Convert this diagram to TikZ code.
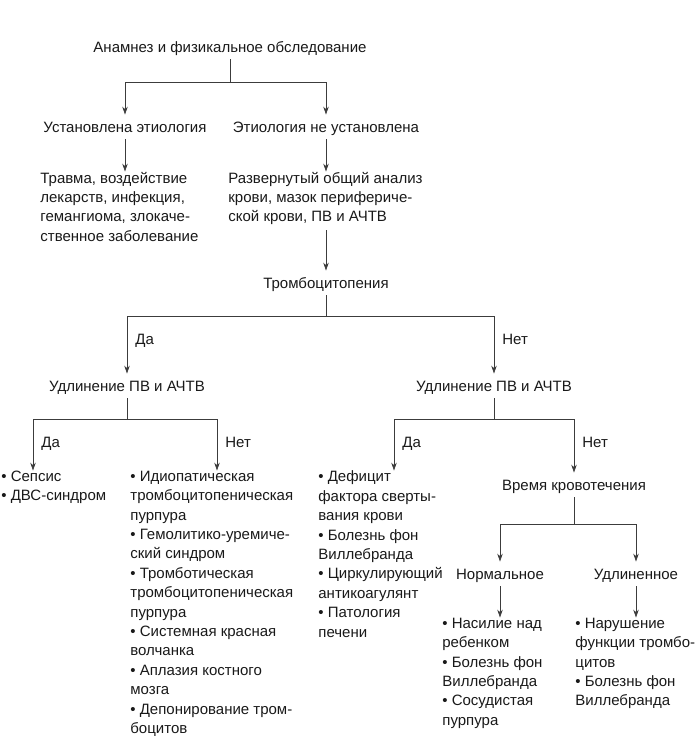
\documentclass[tikz,border=0pt]{standalone}
\usepackage{fontspec}
\setmainfont{Liberation Sans}
\usetikzlibrary{arrows.meta}
\definecolor{linegray}{RGB}{60,60,60}
\definecolor{txt}{RGB}{25,25,25}

\begin{document}
\begin{tikzpicture}[x=1pt,y=-1pt,>={Stealth[length=8pt,width=5.5pt]},line width=0.8pt,
  every node/.style={font=\fontsize{15}{19.4}\selectfont,text=txt,inner sep=0pt},
  lbl/.style={text height=10.8pt,text depth=0pt,outer ysep=7pt},
  lst/.style={anchor=north west,align=left,execute at begin node={\rule{0pt}{17.8pt}}},
  ans/.style={right,xshift=8pt,text height=10.8pt,text depth=0pt},
  link/.style={->,draw=linegray}]
  \useasboundingbox (0,0) rectangle (700,745);
  \node[lbl] (anam) at (230,47) {Анамнез и физикальное обследование};
  \node[lbl] (known) at (125,127) {Установлена этиология};
  \node[lbl] (unknown) at (326,127) {Этиология не установлена};
  \node[lst] (cause) at (40,171.6) {Травма, воздействие\\лекарств, инфекция,\\гемангиома, злокаче-\\ственное заболевание};
  \node[lst] (cbc) at (228,171.6) {Развернутый общий анализ\\крови, мазок перифериче-\\ской крови, ПВ и АЧТВ};
  \node[lbl] (throm) at (326,283) {Тромбоцитопения};
  \node[lbl] (prolA) at (127,386) {Удлинение ПВ и АЧТВ};
  \node[lbl] (prolB) at (494,386) {Удлинение ПВ и АЧТВ};
  \node[lst] (sep) at (1,470.6) {• Сепсис\\• ДВС-синдром};
  \node[lst] (itp) at (130,470.6) {• Идиопатическая\\тромбоцитопеническая\\пурпура\\• Гемолитико-уремиче-\\ский синдром\\• Тромботическая\\тромбоцитопеническая\\пурпура\\• Системная красная\\волчанка\\• Аплазия костного\\мозга\\• Депонирование тром-\\боцитов};
  \node[lst] (fact) at (318,470.6) {• Дефицит\\фактора сверты-\\вания крови\\• Болезнь фон\\Виллебранда\\• Циркулирующий\\антикоагулянт\\• Патология\\печени};
  \node[lbl] (bleed) at (574,485) {Время кровотечения};
  \node[lbl] (norm) at (500,574) {Нормальное};
  \node[lbl] (long) at (636,574) {Удлиненное};
  \node[lst] (abuse) at (442,617.6) {• Насилие над\\ребенком\\• Болезнь фон\\Виллебранда\\• Сосудистая\\пурпура};
  \node[lst] (plt) at (575,617.6) {• Нарушение\\функции тромбо-\\цитов\\• Болезнь фон\\Виллебранда};

  \draw[link] (anam.south) -- ++(0,22.6) -| (known.north);
  \draw[link] (anam.south) -- ++(0,22.6) -| (unknown.north);
  \draw[link] (known.south) -- (known.south |- cause.north);
  \draw[link] (unknown.south) -- (unknown.south |- cbc.north);
  \draw[link] ([yshift=-5pt]cbc.south -| throm.north) -- (throm.north);
  \draw[link] (throm.south) -- ++(0,20.6) -| (prolA.north) node[ans,pos=0.7] {Да};
  \draw[link] (throm.south) -- ++(0,20.6) -| (prolB.north) node[ans,pos=0.7] {Нет};
  \draw[link] (prolA.south) -- ++(0,20.6) -| ([xshift=32pt]sep.north west) node[ans,pos=0.72] {Да};
  \draw[link] (prolA.south) -- ++(0,20.6) -| ([xshift=87pt]itp.north west) node[ans,pos=0.72] {Нет};
  \draw[link] (prolB.south) -- ++(0,20.6) -| ([xshift=76pt]fact.north west) node[ans,pos=0.72] {Да};
  \draw[link] (prolB.south) -- ++(0,20.6) -| (bleed.north) node[ans,pos=0.72] {Нет};
  \draw[link] (bleed.south) -- ++(0,26.6) -| (norm.north);
  \draw[link] (bleed.south) -- ++(0,26.6) -| (long.north);
  \draw[link] (norm.south) -- (norm.south |- abuse.north);
  \draw[link] (long.south) -- (long.south |- plt.north);
\end{tikzpicture}
\end{document}
